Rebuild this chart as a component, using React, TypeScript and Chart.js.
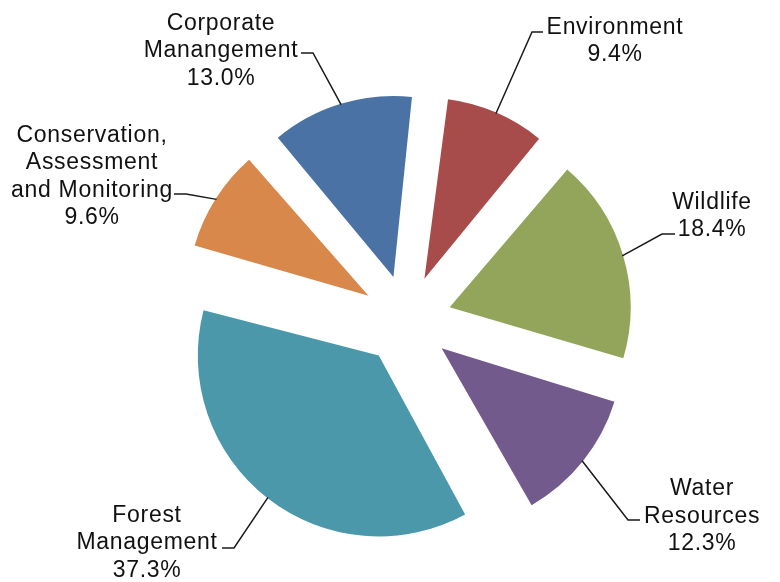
import React, { useEffect, useRef } from "react";
import { Chart, registerables } from "chart.js";

Chart.register(...registerables);

// ---- data ----
const categories = [
  "Environment",
  "Wildlife",
  "Water Resources",
  "Forest Management",
  "Conservation, Assessment and Monitoring",
  "Corporate Manangement",
];
const values = [9.4, 18.4, 12.3, 37.3, 9.6, 13.0];
const labelLines = [
  ["Environment"],
  ["Wildlife"],
  ["Water", "Resources"],
  ["Forest", "Management"],
  ["Conservation,", "Assessment", "and Monitoring"],
  ["Corporate", "Manangement"],
];
const colors = ["#A84B4B", "#93A55B", "#725A8C", "#4B98AB", "#D8884A", "#4A72A4"];

// ---- layout (label placement) ----
const labelCenterX = [615, 712, 702, 147, 92, 221];
const labelFirstBaseline = [33.5, 208.5, 495, 521.5, 141.5, 29.5];
const leaderStart: [number, number][] = [
  [543, 32], [675, 234], [640, 520], [222, 548], [174, 194], [301, 53],
];
const leaderKnee: [number, number][] = [
  [532, 32], [662, 234], [628, 520], [234, 548], [186, 194], [313, 53],
];
const LINE_H = 27.5;
const OFFSET = 180; // Chart.js translates arcs by offset/4
const RADIUS = 181;

const fixRadius = {
  id: "fixRadius",
  afterDatasetsUpdate(chart: any) {
    const meta = chart.getDatasetMeta(0);
    meta.data.forEach((arc: any) => {
      const c = arc.circumference;
      const fix = 1 - Math.sin(Math.min(Math.PI, c || 0));
      arc.outerRadius = RADIUS - (OFFSET / 4) * fix;
    });
  },
};

const labelPlugin = {
  id: "pieLabels",
  afterDraw(chart: any) {
    const ctx = chart.ctx as CanvasRenderingContext2D;
    const meta = chart.getDatasetMeta(0);
    ctx.save();
    meta.data.forEach((arc: any, i: number) => {
      const mid = (arc.startAngle + arc.endAngle) / 2;
      const d = OFFSET / 4 + RADIUS - 1;
      const ex = arc.x + Math.cos(mid) * d;
      const ey = arc.y + Math.sin(mid) * d;
      ctx.beginPath();
      ctx.strokeStyle = "#1a1a1a";
      ctx.lineWidth = 1.5;
      ctx.moveTo(leaderStart[i][0], leaderStart[i][1]);
      ctx.lineTo(leaderKnee[i][0], leaderKnee[i][1]);
      ctx.lineTo(ex, ey);
      ctx.stroke();

      const lines = [...labelLines[i], values[i].toFixed(1) + "%"];
      ctx.fillStyle = "#111";
      ctx.font = '23px "Liberation Sans", Arial, sans-serif';
      (ctx as any).letterSpacing = "0.7px";
      ctx.textAlign = "center";
      ctx.textBaseline = "alphabetic";
      lines.forEach((t, k) => {
        ctx.fillText(t, labelCenterX[i], labelFirstBaseline[i] + k * LINE_H);
      });
    });
    ctx.restore();
  },
};

export default function App() {
  const ref = useRef<HTMLCanvasElement | null>(null);
  useEffect(() => {
    if (!ref.current) return;
    const chart = new Chart(ref.current, {
      type: "pie",
      data: {
        labels: categories,
        datasets: [
          {
            data: values,
            backgroundColor: colors,
            borderWidth: 0,
            offset: OFFSET,
            hoverOffset: 0,
          } as any,
        ],
      },
      options: {
        responsive: false,
        animation: false,
        devicePixelRatio: 1,
        rotation: 6.5,
        radius: RADIUS,
        layout: { padding: { left: 33, right: 0, top: 58, bottom: 0 } },
        plugins: {
          legend: { display: false },
          tooltip: { enabled: false },
          title: { display: false },
        },
        events: [],
      } as any,
      plugins: [fixRadius, labelPlugin],
    });
    return () => chart.destroy();
  }, []);
  return (
    <div style={{ position: "absolute", left: 0, top: 0, width: 780, height: 582, background: "#fff" }}>
      <canvas ref={ref} width={780} height={582} />
    </div>
  );
}
